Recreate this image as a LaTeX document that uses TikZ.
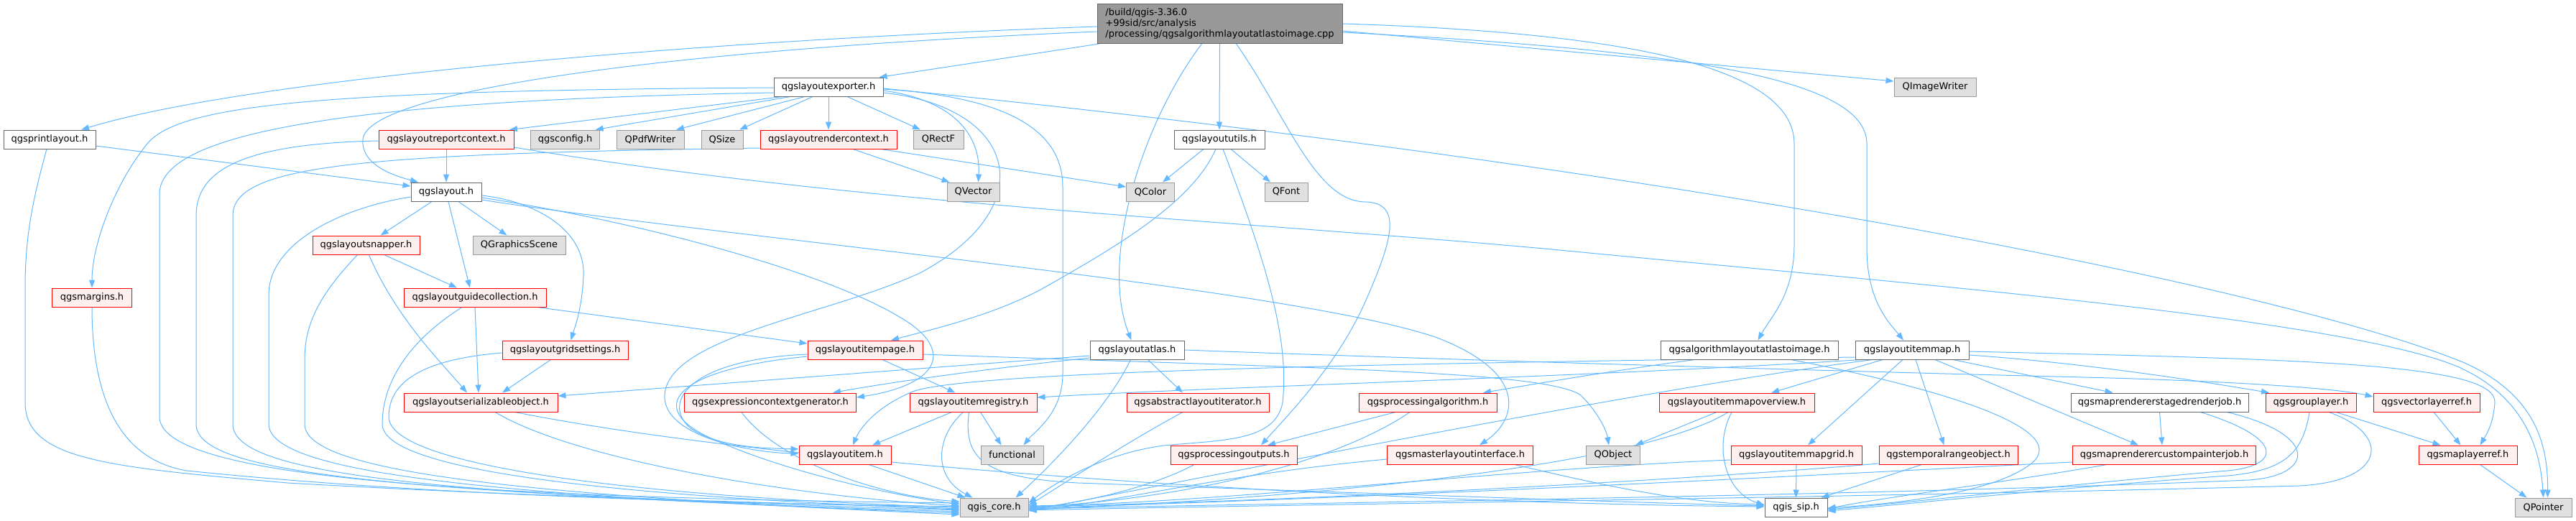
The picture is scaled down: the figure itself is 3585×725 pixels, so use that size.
\documentclass[tikz,border=0pt]{standalone}
\usepackage{fontspec}
\setmainfont{DejaVu Sans}
\usetikzlibrary{arrows.meta,calc}
\definecolor{edgec}{HTML}{63B8FF}
\definecolor{redb}{HTML}{FF0000}
\definecolor{redf}{HTML}{FFF0F0}
\definecolor{grayb}{HTML}{999999}
\definecolor{grayf}{HTML}{E0E0E0}
\definecolor{darkb}{HTML}{666666}
\definecolor{topf}{HTML}{999999}
\pgfdeclarelayer{bg}
\pgfsetlayers{bg,main}
\tikzset{
 box/.style={rectangle, minimum height=26pt, inner xsep=2pt, inner ysep=0pt, line width=1pt, font=\fontsize{13}{15}\selectfont, text=black},
 wbox/.style={box, draw=darkb, fill=white},
 rbox/.style={box, draw=redb, fill=redf},
 gbox/.style={box, draw=grayb, fill=grayf},
 edg/.style={color=edgec, line width=1pt, -{Triangle[length=11pt,width=8pt]}},
}
\begin{document}
\begin{tikzpicture}[x=1pt,y=-1pt]
\useasboundingbox (0,0) rectangle (3585,725);
% ---------- nodes ----------
\node[box, draw=darkb, fill=topf, minimum width=341pt, minimum height=55pt, align=left, font=\fontsize{13}{14.8}\selectfont] (T) at (1697.5,33) {/build/qgis-3.36.0\\+99sid/src/analysis\\/processing/qgsalgorithmlayoutatlastoimage.cpp};
\node[wbox, minimum width=152pt] (E) at (1153,121) {qgslayoutexporter.h};
\node[gbox, minimum width=114pt] (QIW) at (2693,121) {QImageWriter};
\node[wbox, minimum width=128pt] (PL) at (69,194) {qgsprintlayout.h};
\node[rbox, minimum width=188pt] (RC) at (621,194) {qgslayoutreportcontext.h};
\node[gbox, minimum width=96pt] (CFG) at (786.6,194) {qgsconfig.h};
\node[gbox, minimum width=94pt] (PDF) at (905,194) {QPdfWriter};
\node[gbox, minimum width=58pt] (QSZ) at (1005,194) {QSize};
\node[rbox, minimum width=190pt] (RCX) at (1153,194) {qgslayoutrendercontext.h};
\node[gbox, minimum width=70pt] (QRF) at (1306,194) {QRectF};
\node[wbox, minimum width=126pt] (UT) at (1697,194) {qgslayoututils.h};
\node[wbox, minimum width=98pt] (L) at (621,267) {qgslayout.h};
\node[gbox, minimum width=73pt] (QV) at (1354.5,267) {QVector};
\node[gbox, minimum width=67pt] (QC) at (1601,267) {QColor};
\node[gbox, minimum width=60pt] (QF) at (1790,267) {QFont};
\node[rbox, minimum width=149pt] (SN) at (509.5,341) {qgslayoutsnapper.h};
\node[gbox, minimum width=129pt] (QGS) at (722.5,341) {QGraphicsScene};
\node[rbox, minimum width=111pt] (MG) at (128,414) {qgsmargins.h};
\node[rbox, minimum width=198pt] (GC) at (661,414) {qgslayoutguidecollection.h};
\node[rbox, minimum width=175pt] (GS) at (786.5,487) {qgslayoutgridsettings.h};
\node[rbox, minimum width=160pt] (IP) at (1204,487) {qgslayoutitempage.h};
\node[wbox, minimum width=131pt] (AT) at (1582.5,487) {qgslayoutatlas.h};
\node[wbox, minimum width=247pt] (ALG) at (2434.5,487) {qgsalgorithmlayoutatlastoimage.h};
\node[wbox, minimum width=158pt] (IM) at (2661,487) {qgslayoutitemmap.h};
\node[rbox, minimum width=214pt] (SO) at (669,560) {qgslayoutserializableobject.h};
\node[rbox, minimum width=239pt] (ECG) at (1072,560) {qgsexpressioncontextgenerator.h};
\node[rbox, minimum width=177pt] (IR) at (1354.5,560) {qgslayoutitemregistry.h};
\node[rbox, minimum width=198pt] (ALI) at (1667,560) {qgsabstractlayoutiterator.h};
\node[rbox, minimum width=192pt] (PA) at (1987,560) {qgsprocessingalgorithm.h};
\node[rbox, minimum width=216pt] (OV) at (2417,560) {qgslayoutitemmapoverview.h};
\node[wbox, minimum width=247pt] (SRJ) at (3005.5,560) {qgsmaprendererstagedrenderjob.h};
\node[rbox, minimum width=126pt] (GL) at (3216,560) {qgsgrouplayer.h};
\node[rbox, minimum width=148pt] (VLR) at (3377,560) {qgsvectorlayerref.h};
\node[rbox, minimum width=128pt] (LI) at (1176,633) {qgslayoutitem.h};
\node[gbox, minimum width=87pt] (FN) at (1408.5,633) {functional};
\node[rbox, minimum width=176pt] (PO) at (1717,633) {qgsprocessingoutputs.h};
\node[rbox, minimum width=203pt] (MLI) at (2032,633) {qgsmasterlayoutinterface.h};
\node[gbox, minimum width=75pt] (QO) at (2245,633) {QObject};
\node[rbox, minimum width=182pt] (MGR) at (2500,633) {qgslayoutitemmapgrid.h};
\node[rbox, minimum width=193pt] (TRO) at (2711.5,633) {qgstemporalrangeobject.h};
\node[rbox, minimum width=255pt] (CPJ) at (3012,633) {qgsmaprenderercustompainterjob.h};
\node[rbox, minimum width=137pt] (MLR) at (3434.5,633) {qgsmaplayerref.h};
\node[gbox, minimum width=95pt] (CORE) at (1383.5,706) {qgis\_core.h};
\node[wbox, minimum width=87pt] (SIP) at (2499.5,706) {qgis\_sip.h};
\node[gbox, minimum width=79pt] (QP) at (3539.5,706) {QPointer};
% ---------- edges ----------
\begin{pgfonlayer}{bg}
% top node
\draw[edg] ([xshift=3pt]T.south west) -- ([xshift=-6pt]E.north east);
\draw[edg] ([yshift=-4pt]T.west) .. controls (1000,55) and (350,108) .. ([xshift=44pt]PL.north);
\draw[edg] ([yshift=-11pt]T.west) .. controls (900,70) and (510,130) .. (505,194) .. controls (502,230) and (550,245) .. ([xshift=-39pt]L.north);
\draw[edg] (T.south) -- (UT.north);
\draw[edg] ([xshift=-25pt]T.south) .. controls (1590,170) and (1530,360) .. ([xshift=-8pt]AT.north);
\draw[edg] ([xshift=23pt]T.south) .. controls (1790,160) and (1830,280) .. (1900,281) .. controls (1955,282) and (1935,340) .. (1900,420) .. controls (1860,510) and (1790,580) .. ([xshift=38pt]PO.north);
\draw[edg] (T.east) .. controls (2250,45) and (2497,90) .. (2497,200) -- (2497,340) .. controls (2497,410) and (2465,440) .. ([xshift=12pt]ALG.north);
\draw[edg] ([yshift=-12pt]T.east) .. controls (2350,70) and (2598,110) .. (2598,200) -- (2598,345) .. controls (2598,420) and (2630,450) .. ([xshift=-12pt]IM.north);
\draw[edg] ([yshift=-10pt]T.east) -- ([yshift=8pt]QIW.west);
% exporter
\draw[edg] ([yshift=-1pt]E.west) .. controls (450,126) and (250,145) .. (205,200) .. controls (160,255) and (128,340) .. (MG.north);
\draw[edg] ([yshift=-8pt]E.west) .. controls (450,140) and (222,190) .. (222,270) -- (222,580) .. controls (222,660) and (600,692) .. ([yshift=6pt]CORE.west);
\draw[edg] ([xshift=-64pt]E.south) -- ([xshift=88pt]RC.north);
\draw[edg] ([xshift=-53pt]E.south) -- ([xshift=42pt]CFG.north);
\draw[edg] ([xshift=-33pt]E.south) -- ([xshift=36pt]PDF.north);
\draw[edg] ([xshift=-22pt]E.south) -- ([xshift=24pt]QSZ.north);
\draw[edg] (E.south) -- (RCX.north);
\draw[edg] ([xshift=26pt]E.south) -- ([xshift=-25pt]QRF.north);
\draw[edg] ([yshift=-5pt]E.east) .. controls (1330,140) and (1365,190) .. ([xshift=7pt]QV.north);
\draw[edg] ([yshift=-2pt]E.east) .. controls (2400,240) and (3200,410) .. (3430,505) .. controls (3530,550) and (3546,620) .. ([xshift=6pt]QP.north);
\draw[edg] ([yshift=-8pt]E.east) .. controls (1420,150) and (1450,290) .. (1280,380) .. controls (1150,440) and (920,470) .. (925,555) .. controls (930,610) and (1050,630) .. ([yshift=2pt]LI.west);
\draw[edg] ([yshift=-3pt]E.east) .. controls (1400,135) and (1479,180) .. (1479,260) -- (1479,520) .. controls (1479,575) and (1440,600) .. ([xshift=16pt]FN.north);
% printlayout
\draw[edg] ([yshift=-9pt]PL.east) -- ([yshift=8pt]L.west);
\draw[edg] ([xshift=-4pt]PL.south) .. controls (45,280) and (35,330) .. (35,400) -- (35,560) .. controls (35,640) and (150,650) .. (400,672) .. controls (800,695) and (1200,702) .. ([yshift=-2pt]CORE.west);
% report context
\draw[edg] (RC.south) -- (L.north);
\draw[edg] ([yshift=-2pt]RC.west) .. controls (330,200) and (273,240) .. (273,300) -- (273,590) .. controls (273,655) and (500,685) .. ([yshift=-4pt]CORE.west);
\draw[edg] ([yshift=-11pt]RC.east) .. controls (1200,285) and (1700,305) .. (2160,347) .. controls (2600,390) and (3250,440) .. (3420,510) .. controls (3510,550) and (3535,620) .. (QP.north);
% render context
\draw[edg] ([xshift=34pt]RCX.south) -- ([xshift=-33pt]QV.north);
\draw[edg] ([xshift=73pt]RCX.south) -- ([yshift=7pt]QC.west);
\draw[edg] ([yshift=-12pt]RCX.west) .. controls (500,214) and (324,230) .. (324,300) -- (324,590) .. controls (324,655) and (550,688) .. ([yshift=-6pt]CORE.west);
% utils
\draw[edg] ([xshift=-22pt]UT.south) -- ([xshift=17pt]QC.north);
\draw[edg] ([xshift=16pt]UT.south) -- ([xshift=-22pt]QF.north);
\draw[edg] ([xshift=-5pt]UT.south) .. controls (1660,280) and (1560,340) .. (1450,402) .. controls (1380,440) and (1290,460) .. ([xshift=36pt]IP.north);
\draw[edg] ([xshift=5pt]UT.south) .. controls (1760,360) and (1795,470) .. (1785,560) .. controls (1775,615) and (1700,612) .. (1620,620) .. controls (1540,630) and (1470,670) .. ([yshift=6pt]CORE.east);
% layout
\draw[edg] ([yshift=-7pt]L.west) .. controls (470,290) and (374,340) .. (374,410) -- (374,590) .. controls (374,655) and (650,690) .. ([yshift=-8pt]CORE.west);
\draw[edg] ([xshift=-20pt]L.south) -- ([xshift=20pt]SN.north);
\draw[edg] ([xshift=17pt]L.south) -- ([xshift=-17pt]QGS.north);
\draw[edg] ([xshift=3pt]L.south) -- ([xshift=-7pt]GC.north);
\draw[edg] ([yshift=-5pt]L.east) .. controls (745,280) and (815,320) .. (812,384) .. controls (810,430) and (800,455) .. ([xshift=8pt]GS.north);
\draw[edg] ([yshift=-8pt]L.east) .. controls (900,310) and (1150,380) .. (1250,440) .. controls (1330,485) and (1310,535) .. ([yshift=7pt]ECG.east);
\draw[edg] ([yshift=-11pt]L.east) .. controls (1000,330) and (1800,400) .. (2000,470) .. controls (2130,520) and (2110,585) .. ([xshift=27pt]MLI.north);
% snapper
\draw[edg] ([xshift=25pt]SN.south) -- ([xshift=-25pt]GC.north);
\draw[edg] ([xshift=4pt]SN.south) .. controls (550,440) and (610,500) .. ([xshift=-19pt]SO.north);
\draw[edg] ([xshift=-12pt]SN.south) .. controls (445,410) and (424,450) .. (424,500) -- (424,590) .. controls (424,655) and (700,688) .. ([yshift=-10pt]CORE.west);
% guide collection
\draw[edg] ([xshift=87pt]GC.south) -- ([yshift=9pt]IP.west);
\draw[edg] (GC.south) -- ([xshift=-3pt]SO.north);
\draw[edg] ([xshift=-18pt]GC.south) .. controls (560,480) and (532,540) .. (532,590) .. controls (532,660) and (900,692) .. ([yshift=-3pt]CORE.west);
% grid settings
\draw[edg] ([xshift=-20pt]GS.south) -- ([xshift=30pt]SO.north);
\draw[edg] ([yshift=-4pt]GS.west) .. controls (590,500) and (541,530) .. (541,580) .. controls (541,650) and (900,692) .. (CORE.west);
% margins
\draw[edg] (MG.south) .. controls (128,560) and (170,640) .. (260,655) .. controls (600,690) and (1000,700) .. ([yshift=1pt]CORE.west);
% serializable object
\draw[edg] ([xshift=20pt]SO.south) .. controls (800,640) and (1100,690) .. ([yshift=2pt]CORE.west);
\draw[edg] ([xshift=48pt]SO.south) .. controls (1100,650) and (1900,700) .. ([yshift=1pt]SIP.west);
% item page
\draw[edg] ([yshift=-6pt]IP.west) .. controls (960,500) and (920,560) .. (960,595) .. controls (1000,625) and (1080,624) .. ([yshift=8pt]LI.west);
\draw[edg] ([yshift=-9pt]IP.west) .. controls (930,515) and (900,570) .. (990,610) .. controls (1100,660) and (1250,690) .. ([yshift=4pt]CORE.west);
\draw[edg] ([xshift=24pt]IP.south) -- ([xshift=-25pt]IR.north);
\draw[edg] ([yshift=-6pt]IP.east) .. controls (1800,512) and (2150,515) .. (2200,550) .. controls (2225,575) and (2236,600) .. ([xshift=-6pt]QO.north);
% atlas
\draw[edg] ([yshift=-8pt]AT.west) -- ([yshift=9pt]SO.east);
\draw[edg] ([yshift=-11pt]AT.west) .. controls (1400,510) and (1250,530) .. ([xshift=87pt]ECG.north);
\draw[edg] ([xshift=15pt]AT.south) -- ([xshift=-21pt]ALI.north);
\draw[edg] ([xshift=-9pt]AT.south) .. controls (1540,570) and (1460,650) .. ([xshift=30pt]CORE.north);
\draw[edg] (AT.east) .. controls (2000,500) and (2500,515) .. (2900,525) .. controls (3100,530) and (3250,540) .. ([yshift=8pt]VLR.west);
% others into core / sip
\draw[edg] ([xshift=-21pt]ALI.south) .. controls (1560,620) and (1470,680) .. ([yshift=3pt]CORE.east);
\draw[edg] ([xshift=-45pt]PA.south) -- ([xshift=47pt]PO.north);
\draw[edg] ([xshift=-25pt]PA.south) .. controls (1880,630) and (1700,690) .. (CORE.east);
\draw[edg] ([xshift=-55pt]PO.south) .. controls (1600,680) and (1500,700) .. ([yshift=-2pt]CORE.east);
\draw[edg] ([yshift=-6pt]MLI.west) .. controls (1700,660) and (1550,700) .. ([yshift=-4pt]CORE.east);
\draw[edg] ([xshift=76pt]MLI.south) .. controls (2250,680) and (2350,700) .. ([yshift=4pt]SIP.west);
% item registry
\draw[edg] ([xshift=-30pt]IR.south) -- ([xshift=38pt]LI.north);
\draw[edg] ([xshift=10pt]IR.south) -- ([xshift=-15pt]FN.north);
\draw[edg] ([xshift=-14pt]IR.south) .. controls (1300,610) and (1300,665) .. ([xshift=-30pt]CORE.north);
\draw[edg] ([xshift=-6pt]IR.south) .. controls (1340,640) and (1370,665) .. (1500,672) .. controls (2000,690) and (2300,700) .. ([yshift=2pt]SIP.west);
\draw[edg] ([xshift=33pt]LI.south) -- ([xshift=-40pt]CORE.north);
\draw[edg] ([xshift=-40pt]ECG.south) .. controls (1080,640) and (1220,690) .. ([yshift=8pt]CORE.west);
% algorithm header
\draw[edg] ([xshift=-76pt]ALG.south) .. controls (2250,515) and (2150,532) .. ([xshift=77pt]PA.north);
\draw[edg] ([xshift=58pt]ALG.south) .. controls (2700,540) and (2900,600) .. (2820,650) .. controls (2760,690) and (2620,702) .. ([yshift=-1pt]SIP.east);
% item map
\draw[edg] ([xshift=-41pt]IM.south) -- ([xshift=48pt]OV.north);
\draw[edg] ([xshift=-13pt]IM.south) -- ([xshift=16pt]MGR.north);
\draw[edg] ([xshift=5pt]IM.south) -- ([xshift=-6pt]TRO.north);
\draw[edg] ([xshift=32pt]IM.south) -- ([xshift=-36pt]CPJ.north);
\draw[edg] ([xshift=57pt]IM.south) -- ([xshift=-65pt]SRJ.north);
\draw[edg] ([yshift=-7pt]IM.east) .. controls (2900,505) and (3060,530) .. ([xshift=-58pt]GL.north);
\draw[edg] ([yshift=-2pt]IM.east) .. controls (3200,500) and (3475,505) .. (3472,560) .. controls (3470,590) and (3460,605) .. ([xshift=17pt]MLR.north);
\draw[edg] ([yshift=-10pt]IM.west) .. controls (2000,505) and (1350,515) .. (1270,545) .. controls (1215,568) and (1195,600) .. ([xshift=11pt]LI.north);
\draw[edg] ([xshift=-70pt]IM.south) .. controls (2200,525) and (1700,538) .. ([yshift=7pt]IR.east);
\draw[edg] ([xshift=-55pt]IM.south) .. controls (2300,540) and (1800,640) .. ([yshift=-5pt]CORE.east);
% overview
\draw[edg] ([xshift=-28pt]OV.south) -- ([xshift=31pt]QO.north);
\draw[edg] ([xshift=-12pt]OV.south) .. controls (2300,640) and (1900,690) .. ([yshift=-3pt]CORE.east);
\draw[edg] ([xshift=-7pt]OV.south) .. controls (2385,620) and (2400,685) .. ([yshift=3pt]SIP.west);
% map grid, temporal
\draw[edg] (MGR.south) -- (SIP.north);
\draw[edg] ([yshift=-7pt]MGR.west) .. controls (2100,652) and (1700,700) .. ([yshift=2pt]CORE.east);
\draw[edg] ([xshift=-37pt]TRO.south) -- ([xshift=35pt]SIP.north);
\draw[edg] ([yshift=-12pt]TRO.west) .. controls (2450,660) and (1900,695) .. ([yshift=1pt]CORE.east);
% custom painter job
\draw[edg] ([xshift=-80pt]CPJ.south) .. controls (2800,670) and (2620,692) .. ([yshift=-2pt]SIP.east);
\draw[edg] ([yshift=-10pt]CPJ.west) .. controls (2600,657) and (2000,690) .. ([yshift=-1pt]CORE.east);
% staged render job
\draw[edg] (SRJ.south) -- ([xshift=-3pt]CPJ.north);
\draw[edg] ([xshift=57pt]SRJ.south) .. controls (3180,610) and (3175,648) .. (3100,655) .. controls (2900,672) and (2650,700) .. ([yshift=-3pt]SIP.east);
\draw[edg] ([xshift=94pt]SRJ.south) .. controls (3230,605) and (3220,662) .. (3130,668) .. controls (2600,690) and (1800,700) .. ([yshift=-2pt]CORE.east);
% group layer, vector layer ref, map layer ref
\draw[edg] ([xshift=35pt]GL.south) -- ([xshift=-38pt]MLR.north);
\draw[edg] ([xshift=-2pt]GL.south) .. controls (3205,630) and (3180,655) .. (3100,662) .. controls (2850,680) and (2650,702) .. ([yshift=-5pt]SIP.east);
\draw[edg] ([xshift=25pt]GL.south) .. controls (3330,605) and (3320,670) .. (3200,676) .. controls (2600,692) and (1800,702) .. ([yshift=-4pt]CORE.east);
\draw[edg] ([xshift=10pt]VLR.south) -- ([xshift=-10pt]MLR.north);
\draw[edg] ([xshift=17pt]MLR.south) -- ([xshift=-23pt]QP.north);
\end{pgfonlayer}
\end{tikzpicture}
\end{document}
